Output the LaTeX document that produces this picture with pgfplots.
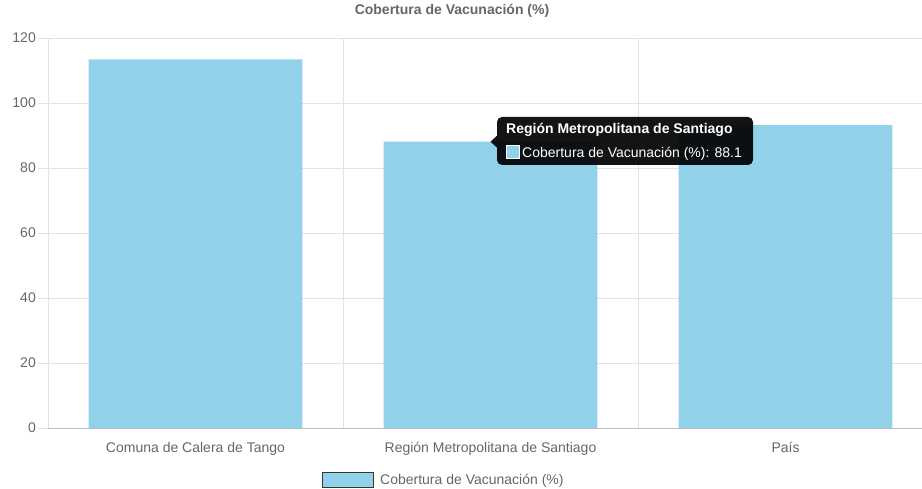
\documentclass[border=0pt]{standalone}
\usepackage{fontspec}
\setmainfont{Liberation Sans}
\usepackage{pgfplots}
\pgfplotsset{compat=1.18}
\definecolor{barblue}{HTML}{92D1EA}
\definecolor{textgray}{HTML}{666666}
\definecolor{gridgray}{HTML}{E2E2E2}
\begin{document}
\begin{tikzpicture}
\begin{axis}[
    scale only axis,
    width=885bp, height=390bp,
    xmin=-0.5, xmax=2.5,
    ymin=0, ymax=120,
    axis x line*=bottom,
    axis y line*=left,
    x axis line style={draw=black!25, line width=0.8bp},
    y axis line style={draw=black!40, line width=0.8bp},
    ybar, bar width=0.725,
    xtick={0,1,2},
    xticklabels={Comuna de Calera de Tango, Región Metropolitana de Santiago, País},
    xtick style={draw=none},
    xticklabel style={anchor=base, yshift=-14bp},
    extra x ticks={-0.5,0.5,1.5},
    extra x tick labels={},
    extra x tick style={grid=major, tick align=outside, major tick length=10bp,
        tick style={draw=gridgray, line width=0.8bp}},
    ytick={0,20,...,120},
    ymajorgrids,
    grid style={draw=gridgray, line width=0.8bp},
    tick align=outside,
    major tick length=10bp,
    ytick style={draw=gridgray, line width=0.8bp},
    yticklabel style={anchor=east, inner sep=0pt, xshift=-2bp},
    tick label style={text=textgray, font=\fontsize{14bp}{16bp}\selectfont},
    /pgf/number format/assume math mode=true,
    title={\bfseries Cobertura de Vacunación (\%)},
    title style={at={(rel axis cs:0.4565,1.054)}, anchor=center, text=textgray,
        font=\fontsize{14bp}{16bp}\selectfont},
    legend style={at={(rel axis cs:0.3096,-0.1333)}, anchor=west, draw=none, fill=none,
        inner sep=0pt, font=\fontsize{14bp}{16bp}\selectfont, text=textgray,
        nodes={inner sep=0pt}, column sep=6bp},
    legend image code/.code={\draw[fill=barblue, draw=black!80, line width=1bp] (0bp,-7bp) rectangle (51bp,8bp);},
    clip=false,
]
\addplot[fill=barblue, draw=none] coordinates {(0,113.4) (1,88.1) (2,93.2)};
\addlegendentry{Cobertura de Vacunación (\%)}
\coordinate (sw) at (rel axis cs:0,0);
\coordinate (T) at (axis cs:1,88.1);
\end{axis}
% tooltip
\fill[black, opacity=0.92, rounded corners=5bp] ([shift={(6.5bp,24.7bp)}]T) rectangle ([shift={(262.5bp,-23.3bp)}]T);
\fill[black, opacity=0.92] ([shift={(6.5bp,6bp)}]T) -- (T) -- ([shift={(6.5bp,-6bp)}]T) -- cycle;
\node[anchor=base west, inner sep=0pt, text=white, font=\fontsize{14bp}{16bp}\selectfont\bfseries] at ([shift={(15.5bp,7.7bp)}]T) {Región Metropolitana de Santiago};
\draw[fill=barblue, draw=white, line width=1bp] ([shift={(15.5bp,-4.3bp)}]T) rectangle ([shift={(28.5bp,-17.3bp)}]T);
\node[anchor=base west, inner sep=0pt, text=white, font=\fontsize{14bp}{16bp}\selectfont] at ([shift={(31.5bp,-15.8bp)}]T) {Cobertura de Vacunación (\%): 88.1};
\pgfresetboundingbox
\path[use as bounding box] ([shift={(-48bp,-61bp)}]sw) rectangle ([shift={(874bp,428bp)}]sw);
\end{tikzpicture}
\end{document}
